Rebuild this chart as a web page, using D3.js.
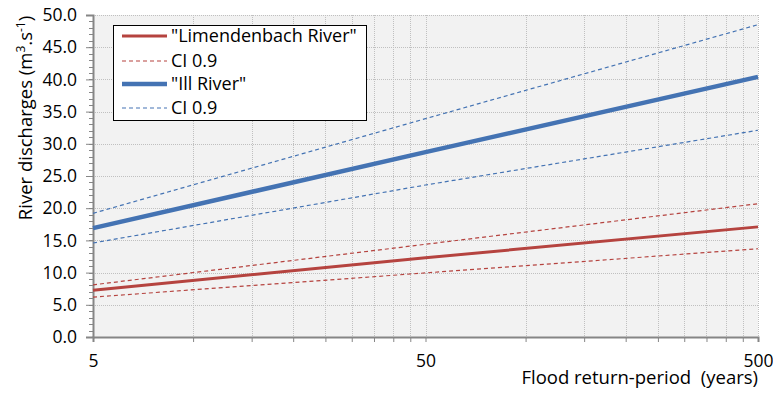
<!DOCTYPE html>
<html>
<head>
<meta charset="utf-8">
<script src="https://cdn.jsdelivr.net/npm/d3@7"></script>
<style>
  body { margin: 0; background: #fff; }
  svg text { font-family: "Open Sans", "Noto Sans", sans-serif; fill: #000; white-space: pre; }
</style>
</head>
<body>
<div id="chart"></div>
<script>
// return periods (years) read at 5, 50 and 500
var periods = [5, 50, 500];

// Limendenbach River discharges (m3/s)
var limMain  = [7.25, 12.3, 17.1];
var limUpper = [8.1, 14.4, 20.7];
var limLower = [6.2, 9.95, 13.7];

// Ill River discharges (m3/s)
var illMain  = [16.9, 28.7, 40.4];
var illUpper = [19.2, 33.9, 48.5];
var illLower = [14.6, 23.6, 32.1];

var xTickLabels = [5, 50, 500];
var yTicks = d3.range(0, 50.01, 5);

var legendLabels = ['"Limendenbach River"', "CI 0.9", '"Ill River"', "CI 0.9"];

var red = "#b5433f";
var blue = "#4473b3";

var W = 773, H = 394;
var mLeft = 93, mRight = 758, mTop = 15, mBottom = 337;

var svg = d3.select("#chart").append("svg")
    .attr("width", W)
    .attr("height", H);

//scales
var x = d3.scaleLog().domain([5, 500]).range([mLeft, mRight]);
var y = d3.scaleLinear().domain([0, 50]).range([mBottom, mTop]);

//plot background
svg.append("rect")
    .attr("x", mLeft).attr("y", mTop)
    .attr("width", mRight - mLeft).attr("height", mBottom - mTop)
    .attr("fill", "#f2f2f2");

//minor log positions: 5k, 50k
var minorX = [];
[5, 50].forEach(function(b){
    for (var k = 1; k <= 10; k++) minorX.push(b * k);
});
minorX = minorX.filter(function(v, i, a){ return a.indexOf(v) == i; });

//vertical grid
svg.append("g").selectAll("line")
    .data(minorX.filter(function(v){ return v > 5; }))
    .enter().append("line")
    .attr("x1", function(d){ return Math.round(x(d)) + 0.5; })
    .attr("x2", function(d){ return Math.round(x(d)) + 0.5; })
    .attr("y1", mTop).attr("y2", mBottom)
    .attr("stroke", "#c0c0c0")
    .attr("stroke-dasharray", "1,1");

//horizontal grid
svg.append("g").selectAll("line")
    .data(yTicks.filter(function(v){ return v > 0; }))
    .enter().append("line")
    .attr("x1", mLeft).attr("x2", mRight)
    .attr("y1", function(d){ return Math.round(y(d)) + 0.5; })
    .attr("y2", function(d){ return Math.round(y(d)) + 0.5; })
    .attr("stroke", "#c0c0c0")
    .attr("stroke-dasharray", "1,1");

//Y axis with major ticks
var yAxis = d3.axisLeft(y)
    .tickValues(yTicks)
    .tickFormat(d3.format(".1f"))
    .tickSize(7)
    .tickPadding(9);

var gy = svg.append("g")
    .attr("transform", "translate(" + mLeft + ",0)")
    .call(yAxis);
gy.select(".domain").attr("stroke", "#868686").attr("stroke-width", 2);
gy.selectAll(".tick line").attr("stroke", "#868686");
gy.selectAll("text").style("font-size", "17.5px").attr("font-family", null);

//Y minor ticks every 1.0
svg.append("g").selectAll("line")
    .data(d3.range(0, 50.01, 1))
    .enter().append("line")
    .attr("x1", mLeft - 4).attr("x2", mLeft)
    .attr("y1", function(d){ return Math.round(y(d)) + 0.5; })
    .attr("y2", function(d){ return Math.round(y(d)) + 0.5; })
    .attr("stroke", "#868686");

//X axis
var xAxis = d3.axisBottom(x)
    .tickValues(minorX)
    .tickFormat(function(d){ return xTickLabels.indexOf(d) >= 0 ? d : ""; })
    .tickSize(5)
    .tickPadding(13);

var gx = svg.append("g")
    .attr("transform", "translate(0," + mBottom + ")")
    .call(xAxis);
gx.select(".domain").attr("stroke", "#868686").attr("stroke-width", 2);
gx.selectAll(".tick line").attr("stroke", "#868686");
gx.selectAll("text").style("font-size", "17.5px").attr("font-family", null);

//series
var series = [
    {vals: limMain,  color: red,  width: 3,   dash: null},
    {vals: limUpper, color: red,  width: 1.2, dash: "4,3"},
    {vals: limLower, color: red,  width: 1.2, dash: "4,3"},
    {vals: illMain,  color: blue, width: 4.5, dash: null},
    {vals: illUpper, color: blue, width: 1.2, dash: "4,3"},
    {vals: illLower, color: blue, width: 1.2, dash: "4,3"}
];

var line = d3.line()
    .x(function(d){ return x(d[0]); })
    .y(function(d){ return y(d[1]); });

series.forEach(function(s){
    svg.append("path")
        .datum(d3.zip(periods, s.vals))
        .attr("d", line)
        .attr("fill", "none")
        .attr("stroke", s.color)
        .attr("stroke-width", s.width)
        .attr("stroke-dasharray", s.dash);
});

//legend
var lg = svg.append("g");
lg.append("rect")
    .attr("x", 113.5).attr("y", 25.5)
    .attr("width", 253).attr("height", 95)
    .attr("fill", "#fff")
    .attr("stroke", "#000");

var legendStyle = [series[0], series[1], series[3], series[4]];
var rowY = [36, 61, 84, 108];
legendLabels.forEach(function(t, i){
    lg.append("line")
        .attr("x1", 122).attr("x2", 167)
        .attr("y1", rowY[i]).attr("y2", rowY[i])
        .attr("stroke", legendStyle[i].color)
        .attr("stroke-width", legendStyle[i].width)
        .attr("stroke-dasharray", legendStyle[i].dash);
    lg.append("text")
        .attr("x", 171).attr("y", rowY[i])
        .attr("dy", "0.35em")
        .style("font-size", "18px")
        .text(t);
});

//axis titles
svg.append("text")
    .attr("x", 758).attr("y", 384)
    .attr("text-anchor", "end")
    .style("font-size", "18.5px")
    .text("Flood return-period  (years)");

var yt = svg.append("text")
    .attr("transform", "translate(32,118) rotate(-90)")
    .attr("text-anchor", "middle")
    .style("font-size", "18.5px");
yt.append("tspan").text("River discharges (m");
yt.append("tspan").attr("dy", "-7").style("font-size", "12px").text("3");
yt.append("tspan").attr("dy", "7").text(".s");
yt.append("tspan").attr("dy", "-7").style("font-size", "12px").text("-1");
yt.append("tspan").attr("dy", "7").text(")");
</script>
</body>
</html>
